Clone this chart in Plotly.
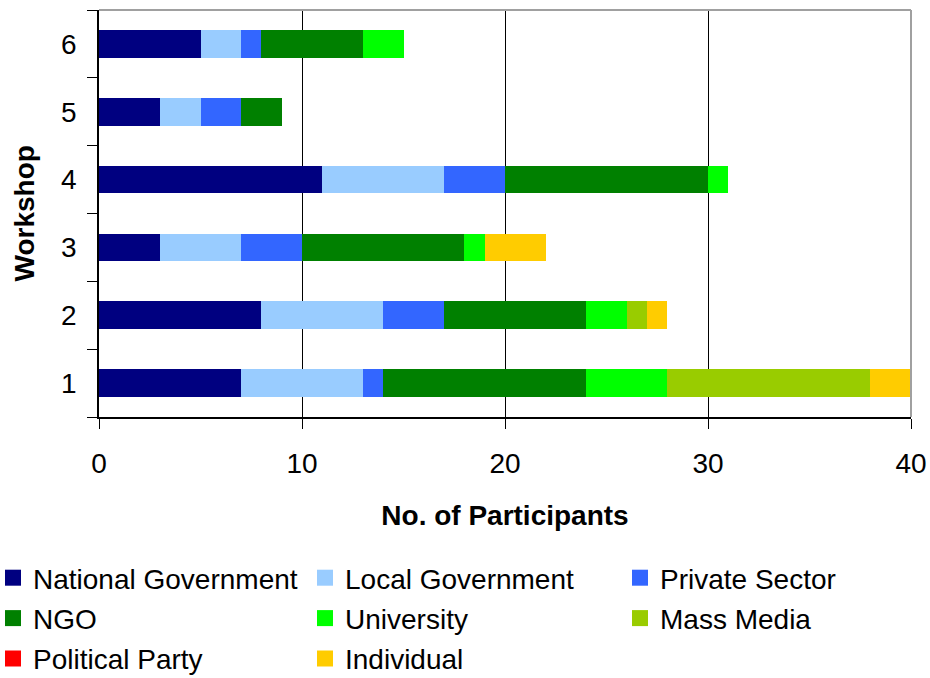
import plotly.graph_objects as go

workshops = ["1", "2", "3", "4", "5", "6"]
national_government = [7, 8, 3, 11, 3, 5]
local_government = [6, 6, 4, 6, 2, 2]
private_sector = [1, 3, 3, 3, 2, 1]
ngo = [10, 7, 8, 10, 2, 5]
university = [4, 2, 1, 1, 0, 2]
mass_media = [10, 1, 0, 0, 0, 0]
political_party = [0, 0, 0, 0, 0, 0]
individual = [2, 1, 3, 0, 0, 0]

series = [
    ("National Government", national_government, "#000080", "legend"),
    ("Local Government", local_government, "#99CCFF", "legend2"),
    ("Private Sector", private_sector, "#3366FF", "legend3"),
    ("NGO", ngo, "#008000", "legend"),
    ("University", university, "#00FF00", "legend2"),
    ("Mass Media", mass_media, "#99CC00", "legend3"),
    ("Political Party", political_party, "#FF0000", "legend"),
    ("Individual", individual, "#FFCC00", "legend2"),
]

FONT = "Arial, 'Liberation Sans', sans-serif"
W, H = 930, 678
L, R, T, B = 99, 19, 10, 261
PW = W - L - R

fig = go.Figure()
for name, vals, color, lg in series:
    fig.add_trace(go.Bar(
        y=workshops, x=vals, name=name, orientation="h",
        marker=dict(color=color, line=dict(width=0)),
        showlegend=False,
    ))
# legend-only entries with larger square swatches
for name, vals, color, lg in series:
    fig.add_trace(go.Scatter(
        x=[None], y=[None], name=name, mode="markers",
        marker=dict(symbol="square", size=20, color=color, line=dict(width=0)),
        legend=lg, legendgroup=name, showlegend=True, hoverinfo="skip",
    ))

legend_common = dict(
    orientation="v", xref="paper", yref="container",
    xanchor="left", yanchor="top",
    font=dict(size=28, family=FONT, color="black"),
    bgcolor="rgba(0,0,0,0)", borderwidth=0,
    itemclick=False, itemsizing="trace", traceorder="grouped",
    tracegroupgap=1,
)
top_px = 553
def lx(px):
    return (px - L) / PW

fig.update_layout(
    barmode="stack",
    bargap=0.59,
    width=W, height=H,
    margin=dict(l=L, r=R, t=T, b=B, autoexpand=False),
    paper_bgcolor="white", plot_bgcolor="white",
    font=dict(family=FONT, size=28, color="black"),
    legend=dict(x=lx(-7), y=1 - top_px / H, **legend_common),
    legend2=dict(x=lx(305), y=1 - top_px / H, **legend_common),
    legend3=dict(x=lx(620), y=1 - top_px / H, **legend_common),
    showlegend=True,
)

fig.update_xaxes(
    range=[0, 40], dtick=10, tick0=0,
    showgrid=True, gridcolor="black", gridwidth=1,
    showline=True, linecolor="black", linewidth=1.5,
    ticks="outside", ticklen=10, tickcolor="black", tickwidth=1,
    zeroline=False, automargin=False,
    tickfont=dict(size=28),
    ticklabelstandoff=11,
    title=dict(text="<b>No. of Participants</b>", font=dict(size=28), standoff=27),
)
fig.update_yaxes(
    type="category", categoryorder="array", categoryarray=workshops,
    tickson="boundaries",
    showgrid=False, automargin=False,
    showline=True, linecolor="black", linewidth=1.5,
    ticks="outside", ticklen=10, tickcolor="black", tickwidth=1,
    tickfont=dict(size=28),
    ticklabelstandoff=15,
)

# y-axis title
fig.add_annotation(
    text="<b>Workshop</b>", xref="paper", yref="paper",
    x=lx(24), y=0.5, xanchor="center", yanchor="middle",
    textangle=-90, showarrow=False, font=dict(size=28, family=FONT, color="black"),
)

# plot-area border on top and right (grey)
fig.add_shape(type="line", xref="paper", yref="paper", x0=0, x1=1, y0=1, y1=1,
              line=dict(color="#A0A0A0", width=2))
fig.add_shape(type="line", xref="paper", yref="paper", x0=1, x1=1, y0=0, y1=1,
              line=dict(color="#A0A0A0", width=2))

fig.write_html("out.html")
